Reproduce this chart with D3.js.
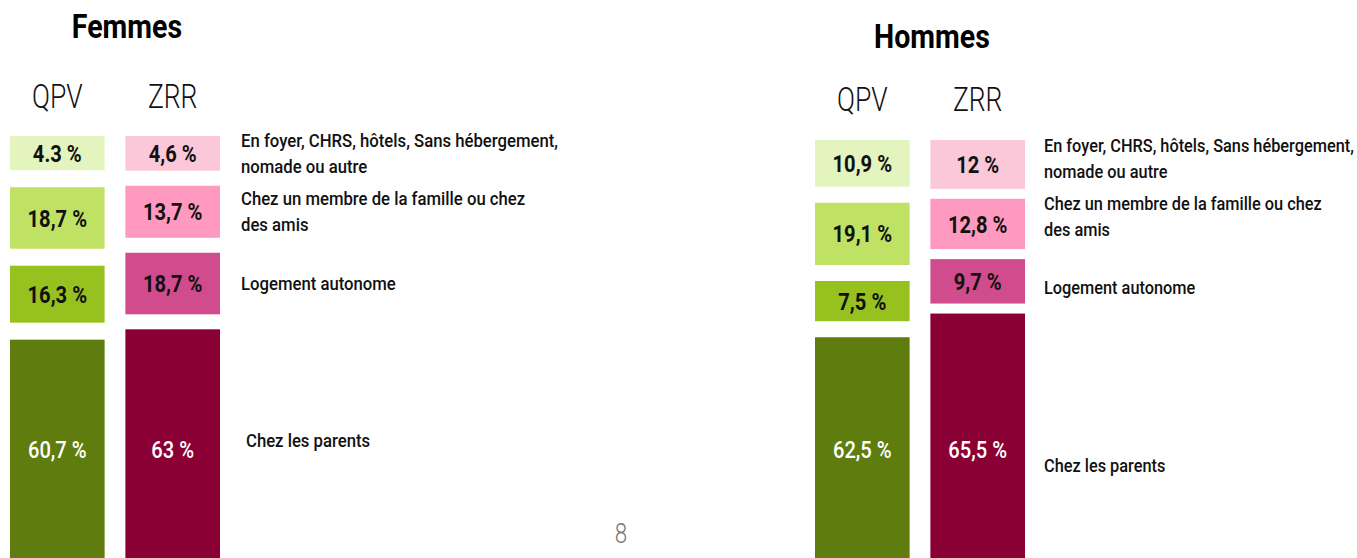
<!DOCTYPE html>
<html>
<head>
<meta charset="utf-8">
<script src="https://cdn.jsdelivr.net/npm/d3@7"></script>
<style>
  body { margin: 0; background: #fff; }
  svg { display: block; font-family: "Roboto", "Liberation Sans", sans-serif; }
</style>
</head>
<body>
<div id="chart"></div>
<script>
// categories, from top to bottom of each stack
const categoryLines = [
    ['En foyer, CHRS, hôtels, Sans hébergement,', 'nomade ou autre'],
    ['Chez un membre de la famille ou chez', 'des amis'],
    ['Logement autonome'],
    ['Chez les parents']
];
const zones = ['QPV', 'ZRR'];
const panels = ['Femmes', 'Hommes'];

const femmesQPV = [4.3, 18.7, 16.3, 60.7];
const femmesZRR = [4.6, 13.7, 18.7, 63];
const hommesQPV = [10.9, 19.1, 7.5, 62.5];
const hommesZRR = [12, 12.8, 9.7, 65.5];

const femmesQPVLabels = ['4.3 %', '18,7 %', '16,3 %', '60,7 %'];
const femmesZRRLabels = ['4,6 %', '13,7 %', '18,7 %', '63 %'];
const hommesQPVLabels = ['10,9 %', '19,1 %', '7,5 %', '62,5 %'];
const hommesZRRLabels = ['12 %', '12,8 %', '9,7 %', '65,5 %'];

const qpvColors = ['#E3F4BE', '#C0E264', '#97C11F', '#5E7D0E'];
const zrrColors = ['#FBC8DA', '#FF99BF', '#D04C8C', '#8B0034'];
const darkText = [false, false, false, true];

// no condensed face installed: squeeze the text horizontally around its anchor
function squeeze(sel, sx) {
    sel.attr('transform', function () {
        const x = +d3.select(this).attr('x');
        return `translate(${x},0) scale(${sx},1) translate(${-x},0)`;
    });
}

class HousingStacks {
    constructor(_config, _data) {
        this.config = {
            svg: _config.svg,
            x: _config.x,
            titleY: _config.titleY,
            headY: _config.headY,
            top: _config.top,
            gap: _config.gap,
            parentsLabelY: _config.parentsLabelY
        };
        this.data = _data;
        this.initVis();
    }

    initVis() {
        const vis = this;

        vis.chart = vis.config.svg
            .append('g')
            .attr('transform', `translate(${vis.config.x},0)`);

        vis.xScale = d3.scaleBand()
            .domain(zones)
            .range([0, 210])
            .paddingInner(0.18);

        // boxes in the slide are not strictly proportional: small shares get a minimum height
        vis.hScale = d3.scaleLinear()
            .domain([0, 20, 70])
            .range([26, 64, 300]);

        vis.updateVis();
    }

    updateVis() {
        const vis = this;

        vis.columns = vis.data.series.map((s) => {
            let y = vis.config.top;
            const boxes = s.values.map((v, i) => {
                const h = vis.hScale(v);
                const box = { zone: s.zone, i, value: v, label: s.labels[i], y, h, color: s.colors[i] };
                y += h + vis.config.gap[s.zone];
                return box;
            });
            return { zone: s.zone, boxes };
        });

        vis.renderVis();
    }

    renderVis() {
        const vis = this;
        const bw = vis.xScale.bandwidth();
        const boxes = vis.columns.flatMap((c) => c.boxes);

        // panel title
        vis.chart.append('text')
            .attr('x', 117)
            .attr('y', vis.config.titleY)
            .attr('text-anchor', 'middle')
            .style('font-size', '34px')
            .style('font-weight', 'bold')
            .style('fill', '#000')
            .text(vis.data.title)
            .call(squeeze, 0.84);

        // column heads
        vis.chart.selectAll('.zone-head')
            .data(zones)
            .join('text')
            .attr('class', 'zone-head')
            .attr('x', (d) => vis.xScale(d) + bw / 2)
            .attr('y', vis.config.headY)
            .attr('text-anchor', 'middle')
            .style('font-size', '34px')
            .style('font-weight', 300)
            .style('fill', '#111')
            .text((d) => d)
            .call(squeeze, 0.78);

        vis.chart.selectAll('.box')
            .data(boxes)
            .join('rect')
            .attr('class', 'box')
            .attr('x', (d) => vis.xScale(d.zone))
            .attr('y', (d) => d.y)
            .attr('width', bw)
            .attr('height', (d) => d.h)
            .style('fill', (d) => d.color);

        vis.chart.selectAll('.box-label')
            .data(boxes)
            .join('text')
            .attr('class', 'box-label')
            .attr('x', (d) => vis.xScale(d.zone) + bw / 2)
            .attr('y', (d) => (d.i === 3 ? vis.config.parentsLabelY : d.y + d.h / 2))
            .attr('dy', '0.36em')
            .attr('text-anchor', 'middle')
            .style('font-size', '24px')
            .style('font-weight', (d) => (darkText[d.i] ? 500 : 'bold'))
            .style('fill', (d) => (darkText[d.i] ? '#fff' : '#111'))
            .text((d) => d.label)
            .call(squeeze, 0.84);

        // category labels, next to the ZRR boxes
        const zrr = vis.columns.find((c) => c.zone === 'ZRR').boxes;
        const lineHeight = 26;
        vis.chart.selectAll('.cat-label')
            .data(categoryLines)
            .join('text')
            .attr('class', 'cat-label')
            .attr('x', (d, i) => vis.data.labelX + (i === 3 ? vis.data.parentsShift : 0))
            .attr('y', (d, i) => {
                const cy = i === 3 ? vis.data.parentsTextY : zrr[i].y + zrr[i].h / 2 + vis.data.catShift[i];
                return cy - (d.length - 1) * lineHeight / 2;
            })
            .style('font-size', '19px')
            .style('font-weight', 500)
            .style('fill', '#111')
            .each(function (d) {
                const t = d3.select(this);
                const x = t.attr('x');
                d.forEach((line, j) => {
                    t.append('tspan')
                        .attr('x', x)
                        .attr('dy', j === 0 ? '0.35em' : `${lineHeight}px`)
                        .text(line);
                });
            })
            .call(squeeze, vis.data.labelSqueeze);
    }
}

const svg = d3.select('#chart')
    .append('svg')
    .attr('width', 1357)
    .attr('height', 558);

new HousingStacks({
    svg, x: 10, titleY: 38, headY: 108, top: 136,
    gap: { QPV: 17, ZRR: 15 }, parentsLabelY: 449
}, {
    title: panels[0],
    series: [
        { zone: 'QPV', values: femmesQPV, labels: femmesQPVLabels, colors: qpvColors },
        { zone: 'ZRR', values: femmesZRR, labels: femmesZRRLabels, colors: zrrColors }
    ],
    labelX: 231,
    labelSqueeze: 0.88,
    catShift: [0, 0, 0, 0],
    parentsShift: 5,
    parentsTextY: 440
});

new HousingStacks({
    svg, x: 815, titleY: 48, headY: 111, top: 140,
    gap: { QPV: 16, ZRR: 10 }, parentsLabelY: 449
}, {
    title: panels[1],
    series: [
        { zone: 'QPV', values: hommesQPV, labels: hommesQPVLabels, colors: qpvColors },
        { zone: 'ZRR', values: hommesZRR, labels: hommesZRRLabels, colors: zrrColors }
    ],
    labelX: 229,
    labelSqueeze: 0.86,
    catShift: [-6, -8, 6, 0],
    parentsShift: 0,
    parentsTextY: 465
});

// slide page number
svg.append('text')
    .attr('x', 621)
    .attr('y', 543)
    .attr('text-anchor', 'middle')
    .style('font-size', '28px')
    .style('font-weight', 300)
    .style('fill', '#777')
    .text('8')
    .call(squeeze, 0.8);
</script>
</body>
</html>
